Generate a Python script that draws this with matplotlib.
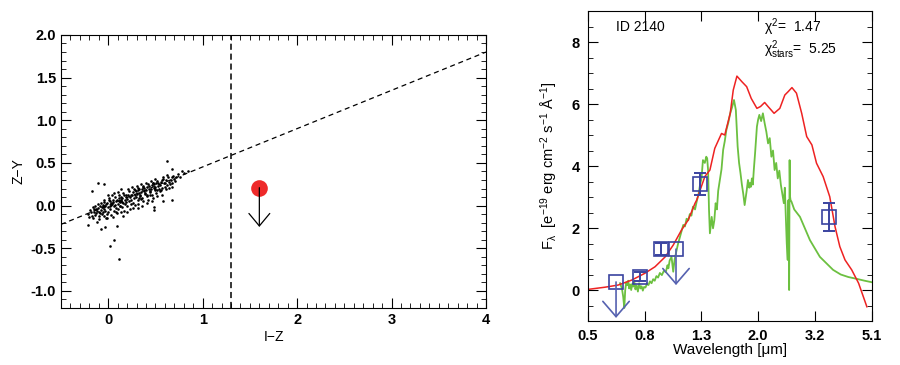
import matplotlib
matplotlib.use('Agg')
import matplotlib.pyplot as plt
from matplotlib.ticker import MultipleLocator, FixedLocator, NullLocator, FormatStrFormatter

plt.rcParams['font.family'] = ['Liberation Sans', 'DejaVu Sans']
plt.rcParams['mathtext.default'] = 'regular'

# ---- left panel: colour-colour diagram ----
field_x = [-0.21, -0.19, -0.20, -0.18,
           -0.16, -0.15, -0.14, -0.15, -0.13, -0.16, -0.14, -0.12,
           -0.11, -0.10, -0.09, -0.10, -0.08, -0.11, -0.09, -0.07, -0.10, -0.08, -0.12,
           -0.06, -0.05, -0.04, -0.06, -0.03, -0.05, -0.04, -0.02, -0.03, -0.06, -0.01, -0.04,
           -0.01, 0.00, 0.01, 0.02, 0.00, 0.01, 0.03, 0.02, -0.01, 0.03, 0.00, 0.02,
           0.04, 0.05, 0.06, 0.05, 0.07, 0.06, 0.04, 0.07, 0.05, 0.08, 0.06, 0.08,
           0.09, 0.10, 0.11, 0.12, 0.10, 0.11, 0.13, 0.09, 0.12, 0.10, 0.13, 0.11, 0.14,
           0.14, 0.15, 0.16, 0.17, 0.15, 0.16, 0.18, 0.14, 0.17, 0.19, 0.16, 0.18,
           0.20, 0.21, 0.19, 0.22, 0.20, 0.23, 0.21, 0.22, 0.24, 0.20, 0.23,
           0.25, 0.26, 0.24, 0.27, 0.26, 0.28, 0.25, 0.27, 0.29, 0.26, 0.28,
           0.30, 0.31, 0.29, 0.32, 0.31, 0.33, 0.30, 0.34, 0.32, 0.33, 0.31,
           0.35, 0.36, 0.34, 0.37, 0.36, 0.38, 0.35, 0.39, 0.37, 0.38, 0.36,
           0.40, 0.41, 0.39, 0.42, 0.41, 0.43, 0.40, 0.44, 0.42, 0.43, 0.41,
           0.45, 0.46, 0.44, 0.47, 0.46, 0.48, 0.45, 0.49, 0.47, 0.48, 0.46,
           0.50, 0.51, 0.49, 0.52, 0.51, 0.53, 0.50, 0.54, 0.52, 0.53, 0.55,
           0.55, 0.56, 0.57, 0.58, 0.56, 0.59, 0.57, 0.58, 0.60,
           0.60, 0.61, 0.62, 0.63, 0.61, 0.64, 0.62, 0.65,
           0.66, 0.67, 0.68, 0.69, 0.67, 0.70,
           0.72, 0.74, 0.71, 0.76, 0.80, 0.84,
           0.62, 0.68, 0.78, -0.11, -0.04, -0.17, 0.06, 0.02, 0.11,
           -0.21, -0.08, -0.03, 0.09, 0.48, 0.48, 0.58, 0.67,
           -0.13, -0.07, 0.03, 0.08, 0.15, 0.24, 0.33, 0.44, 0.52, 0.64,
           -0.17, -0.02, 0.12, 0.19, 0.28, 0.37, 0.47, 0.57, 0.35, 0.41]
field_y = [-0.10, -0.05, -0.13, -0.08,
           -0.02, -0.07, -0.11, -0.04, -0.09, -0.15, 0.00, -0.06,
           -0.03, -0.07, 0.00, -0.12, -0.05, 0.02, -0.09, -0.02, -0.16, 0.03, -0.19,
           0.01, -0.04, 0.04, -0.08, -0.01, 0.06, -0.12, 0.02, -0.06, -0.02, -0.10, 0.00,
           0.03, -0.02, 0.06, 0.00, -0.07, 0.09, 0.03, -0.04, -0.14, -0.11, 0.12, 0.05,
           0.02, 0.07, -0.01, 0.04, 0.10, -0.06, 0.12, 0.01, -0.13, 0.05, 0.15, -0.03,
           0.06, 0.02, 0.09, 0.04, -0.04, 0.13, 0.07, -0.09, 0.00, 0.16, -0.07, 0.05, 0.10,
           0.05, 0.09, 0.03, 0.12, -0.02, 0.15, 0.07, 0.19, -0.06, 0.10, -0.12, 0.02,
           0.08, 0.13, 0.04, 0.17, -0.01, 0.10, 0.20, 0.05, 0.13, -0.07, -0.04,
           0.12, 0.16, 0.07, 0.19, 0.03, 0.13, 0.22, 0.09, 0.17, -0.03, 0.01,
           0.14, 0.18, 0.10, 0.21, 0.06, 0.15, 0.23, 0.11, 0.02, 0.19, -0.03,
           0.16, 0.20, 0.13, 0.23, 0.09, 0.17, 0.25, 0.14, 0.05, 0.21, 0.00,
           0.18, 0.22, 0.15, 0.25, 0.11, 0.19, 0.27, 0.16, 0.07, 0.23, 0.03,
           0.20, 0.24, 0.17, 0.27, 0.13, 0.21, 0.29, 0.18, 0.09, 0.25, 0.05,
           0.22, 0.26, 0.19, 0.29, 0.15, 0.23, 0.31, 0.20, 0.11, 0.27, 0.17,
           0.24, 0.28, 0.21, 0.31, 0.18, 0.26, 0.13, 0.34, 0.22,
           0.27, 0.30, 0.24, 0.33, 0.19, 0.28, 0.36, 0.25,
           0.30, 0.33, 0.27, 0.35, 0.22, 0.31,
           0.34, 0.37, 0.29, 0.33, 0.38, 0.40,
           0.52, 0.43, 0.40, 0.27, 0.25, 0.17, -0.40, -0.47, -0.63,
           -0.23, -0.28, -0.25, -0.24, -0.05, -0.02, 0.05, 0.07,
           -0.04, -0.10, 0.01, -0.08, 0.04, 0.02, 0.09, 0.12, 0.18, 0.21,
           -0.12, -0.15, -0.01, 0.12, 0.18, 0.22, 0.26, 0.30, 0.08, 0.12]

cut_line_x = [-0.5, 4.0]
cut_line_y = [-0.22, 1.80]
cut_iz = 1.3
src_iz, src_zy, src_zy_limit = 1.6, 0.21, -0.25

# ---- right panel: SED ----
model_wl = [0.50, 0.574, 0.64, 0.715, 0.796, 0.865, 0.94, 1.004, 1.075, 1.135, 1.20,
            1.216, 1.30, 1.355, 1.41, 1.49, 1.53, 1.60, 1.64, 1.69, 1.76, 1.83, 1.90,
            1.99, 2.05, 2.12, 2.18, 2.29, 2.40, 2.50, 2.57, 2.65, 2.75, 2.87, 2.99,
            3.12, 3.24, 3.42, 3.61, 3.77, 3.92, 4.09, 4.32, 4.57, 4.89]
model_flux = [0.02, 0.09, 0.16, 0.32, 0.54, 0.75, 1.07, 1.45, 1.94, 2.26, 2.80,
              2.90, 3.66, 3.87, 4.57, 5.05, 5.00, 5.70, 6.45, 6.90, 6.72, 6.56, 6.18,
              5.86, 5.92, 6.05, 5.92, 5.70, 5.86, 6.29, 6.40, 6.53, 6.35, 5.70, 4.95,
              4.68, 4.09, 3.66, 3.01, 2.04, 1.40, 0.97, 0.65, 0.22, -0.54]

star_wl = [0.650, 0.660, 0.667, 0.673, 0.678, 0.684, 0.690, 0.695, 0.700, 0.706,
           0.712, 0.718, 0.724, 0.730, 0.737, 0.744, 0.752, 0.760, 0.768, 0.775,
           0.783, 0.791, 0.800, 0.810, 0.820, 0.830, 0.841, 0.852, 0.863, 0.875,
           0.887, 0.900, 0.915, 0.930, 0.945, 0.958, 0.965, 0.975, 0.990, 1.004,
           1.015, 1.030, 1.045, 1.060, 1.075, 1.090, 1.105, 1.120, 1.135, 1.150,
           1.165, 1.180, 1.200, 1.216, 1.235, 1.250, 1.265, 1.280, 1.300, 1.315,
           1.325, 1.335, 1.345, 1.355, 1.365, 1.375, 1.390, 1.405, 1.420, 1.435,
           1.450, 1.470, 1.490, 1.510, 1.530, 1.550, 1.575, 1.600, 1.625, 1.650,
           1.675, 1.700, 1.720, 1.740, 1.760, 1.780, 1.800, 1.830, 1.850, 1.870,
           1.880, 1.895, 1.910, 1.925, 1.940, 1.960, 1.990, 2.010, 2.030, 2.060,
           2.090, 2.120, 2.150, 2.180, 2.210, 2.240, 2.270, 2.300, 2.330, 2.360,
           2.390, 2.420, 2.450, 2.480, 2.500, 2.520, 2.540, 2.560, 2.575, 2.590,
           2.600, 2.610, 2.620, 2.640, 2.700, 2.830, 3.070, 3.330, 3.710, 3.950,
           4.200, 4.500, 4.800, 5.100]
star_flux = [0.22, 0.05, -0.22, -0.58, 0.00, 0.25, 0.16, 0.30, 0.05, 0.18,
             0.00, 0.20, 0.11, 0.28, 0.02, 0.15, -0.05, 0.22, 0.05, 0.12,
             -0.02, 0.10, 0.08, 0.20, 0.16, 0.28, 0.22, 0.35, 0.30, 0.45,
             0.40, 0.55, 0.48, 0.62, 0.58, 0.80, 0.70, 0.95, 1.07, 0.59,
             0.97, 1.25, 1.50, 1.70, 1.90, 2.10, 2.05, 2.30, 2.25, 2.45,
             2.40, 2.69, 2.60, 2.85, 3.10, 3.39, 3.60, 4.19, 4.10, 4.30,
             4.25, 3.87, 2.60, 1.83, 2.10, 2.36, 1.99, 2.25, 2.80, 2.60,
             3.20, 3.55, 3.90, 4.52, 4.80, 5.16, 5.40, 5.70, 5.90, 6.13,
             5.81, 4.63, 4.10, 3.77, 3.40, 3.10, 2.74, 3.20, 3.55, 3.30,
             3.45, 3.33, 3.60, 3.40, 3.87, 4.40, 5.27, 5.50, 5.65, 5.45,
             5.70, 5.38, 5.10, 4.73, 4.90, 4.30, 4.50, 3.87, 4.10, 3.60,
             3.85, 3.40, 3.10, 2.80, 3.30, 2.40, 1.50, 0.97, 2.90, 0.00,
             4.19, 3.01, 2.90, 2.85, 2.60, 2.36, 1.61, 1.07, 0.65, 0.50,
             0.42, 0.36, 0.30, 0.25]

phot_wl = [0.629, 0.767, 0.906, 1.027, 1.25, 3.59]
phot_flux = [0.26, 0.43, 1.33, 1.32, 3.43, 2.36]
phot_err = [0.0, 0.14, 0.20, 0.0, 0.36, 0.45]
phot_limit_to = [-0.90, None, None, 0.16, None, None]

xtick_vals = [0.5, 0.795, 1.265, 2.01, 3.2, 5.1]
xtick_labels = ['0.5', '0.8', '1.3', '2.0', '3.2', '5.1']

fig = plt.figure(figsize=(9, 3.65), dpi=100)

# left panel
ax1 = fig.add_axes([0.0678, 0.1562, 0.4722, 0.748])
ax1.scatter(field_x, field_y, s=3.5, c='k', marker='o', linewidths=0)
ax1.plot(cut_line_x, cut_line_y, 'k--', lw=0.9, dashes=(4, 3))
ax1.axvline(cut_iz, color='k', ls='--', lw=1.1, dashes=(4, 2.5))
ax1.plot([src_iz], [src_zy], 'o', color='#ee2a2a', ms=12, mec='none', zorder=3)
ax1.annotate('', xy=(src_iz, src_zy_limit), xytext=(src_iz, src_zy),
             arrowprops=dict(arrowstyle='->,head_length=0.9,head_width=0.75',
                             color='k', lw=0.9, shrinkA=0, shrinkB=0))
ax1.set_xlim(-0.5, 4.0)
ax1.set_ylim(-1.2, 2.0)
ax1.xaxis.set_major_locator(FixedLocator([0, 1, 2, 3, 4]))
ax1.xaxis.set_minor_locator(MultipleLocator(0.1))
ax1.yaxis.set_major_locator(MultipleLocator(0.5))
ax1.yaxis.set_minor_locator(MultipleLocator(0.1))
ax1.yaxis.set_major_formatter(FormatStrFormatter('%.1f'))
ax1.tick_params(which='both', direction='in', top=True, right=True, labelsize=10.5)
ax1.tick_params(which='major', length=7)
ax1.tick_params(which='minor', length=3.5)
for lab in ax1.get_xticklabels() + ax1.get_yticklabels():
    lab.set_fontweight('bold')
ax1.set_xlabel('I\u2212Z', fontsize=10, labelpad=2)
ax1.set_ylabel('Z\u2212Y', fontsize=10, labelpad=4)

# right panel
ax2 = fig.add_axes([0.6533, 0.1205, 0.3156, 0.8493])
ax2.plot(star_wl, star_flux, color='#6cc040', lw=1.3)
ax2.plot(model_wl, model_flux, color='#ee2222', lw=1.1)
blue = '#3a43a0'
for wl, fl, er, lim in zip(phot_wl, phot_flux, phot_err, phot_limit_to):
    ax2.plot([wl], [fl], 's', ms=10, mfc='none', mec=blue, mew=1.2)
    if er > 0:
        ax2.errorbar([wl], [fl], yerr=[er], fmt='none', ecolor=blue, elinewidth=1.4,
                     capsize=4, capthick=1.4)
    if lim is not None:
        ax2.annotate('', xy=(wl, lim), xytext=(wl, fl),
                     arrowprops=dict(arrowstyle='->,head_length=1.1,head_width=0.95',
                                     color='#5561b0', lw=1.2, shrinkA=0, shrinkB=0))
ax2.set_xscale('log')
ax2.set_xlim(0.5, 5.1)
ax2.set_ylim(-1.0, 9.0)
ax2.xaxis.set_major_locator(FixedLocator(xtick_vals))
ax2.xaxis.set_minor_locator(NullLocator())
ax2.set_xticklabels(xtick_labels)
ax2.yaxis.set_major_locator(MultipleLocator(2))
ax2.yaxis.set_minor_locator(MultipleLocator(0.5))
ax2.tick_params(which='both', direction='in', top=True, right=True, labelsize=10.5)
ax2.tick_params(which='major', length=7, pad=6)
ax2.tick_params(which='minor', length=3.5)
for lab in ax2.get_xticklabels() + ax2.get_yticklabels():
    lab.set_fontweight('bold')
ax2.set_xlabel('Wavelength [\u03bcm]', fontsize=11, labelpad=0)
ax2.set_ylabel('F$_\\lambda$  [e$^{-19}$ erg cm$^{-2}$ s$^{-1}$ \u00c5$^{-1}$]',
               fontsize=10.5, labelpad=8)
ax2.text(0.10, 0.948, 'ID 2140', transform=ax2.transAxes, fontsize=10, va='center')
ax2.text(0.62, 0.948, '\u03c7$^2$=  1.47', transform=ax2.transAxes, fontsize=10,
         va='center')
ax2.text(0.62, 0.874, '\u03c7$^2_{stars}$=  5.25', transform=ax2.transAxes,
         fontsize=10, va='center')

fig.savefig('out.png', dpi=100)
